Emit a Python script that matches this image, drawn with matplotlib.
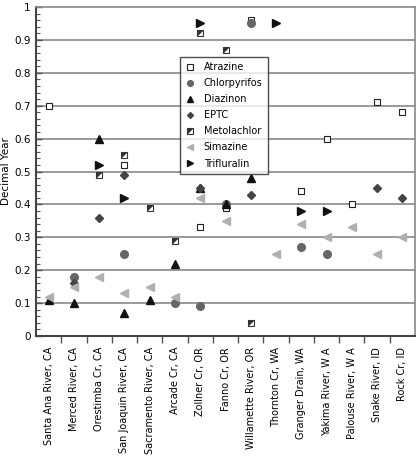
import numpy as np
import matplotlib
matplotlib.use("Agg")
import matplotlib.pyplot as plt
from matplotlib.path import Path
from matplotlib.legend_handler import HandlerTuple

nan = np.nan
categories = ["Santa Ana River, CA", "Merced River, CA", "Orestimba Cr, CA",
              "San Joaquin River, CA", "Sacramento River, CA", "Arcade Cr, CA",
              "Zollner Cr, OR", "Fanno Cr, OR", "Willamette River, OR",
              "Thornton Cr, WA", "Granger Drain, WA", "Yakima River, W A",
              "Palouse River, W A", "Snake River, ID", "Rock Cr, ID"]

atrazine     = [0.70, nan, nan, 0.52, nan, nan, 0.33, 0.39, 0.96, nan, 0.44, 0.60, 0.40, 0.71, 0.68]
chlorpyrifos = [nan, 0.18, nan, 0.25, nan, 0.10, 0.09, 0.40, 0.95, nan, 0.27, 0.25, nan, nan, nan]
diazinon     = [0.11, 0.10, 0.60, 0.07, 0.11, 0.22, 0.45, 0.40, 0.48, nan, nan, nan, nan, nan, nan]
eptc         = [nan, 0.16, 0.36, 0.49, nan, nan, 0.45, nan, 0.43, nan, nan, nan, nan, 0.45, 0.42]
metolachlor  = [nan, nan, 0.49, 0.55, 0.39, 0.29, 0.92, 0.87, 0.04, nan, nan, nan, nan, nan, nan]
simazine     = [0.12, 0.15, 0.18, 0.13, 0.15, 0.12, 0.42, 0.35, nan, 0.25, 0.34, 0.30, 0.33, 0.25, 0.30]
trifluralin  = [nan, nan, 0.52, 0.42, nan, nan, 0.95, nan, nan, 0.95, 0.38, 0.38, nan, nan, nan]

y_ticks = [0, 0.1, 0.2, 0.3, 0.4, 0.5, 0.6, 0.7, 0.8, 0.9, 1]
y_ticklabels = ["0", "0.1", "0.2", "0.3", "0.4", "0.5", "0.6", "0.7", "0.8", "0.9", "1"]

fig = plt.figure(figsize=(4.17, 4.57), dpi=100)
ax = fig.add_axes([36/417, 1 - 336/457, 379/417, 329/457])
x = np.arange(1, len(categories) + 1)

for yv in y_ticks[1:-1]:
    ax.axhline(yv, color="#9a9a9a", lw=1.4, zorder=1)

upper_left = Path([(-1, 1), (1, 1), (-1, -1), (-1, 1)],
                  [Path.MOVETO, Path.LINETO, Path.LINETO, Path.CLOSEPOLY])

ms = 5
kw = dict(linestyle="none", zorder=3)
h_atr, = ax.plot(x, atrazine, marker="s", ms=ms, mfc="white", mec="#222222", mew=0.8, **kw)
h_chl, = ax.plot(x, chlorpyrifos, marker="o", ms=5.5, mfc="#666666", mec="#666666", **kw)
h_dia, = ax.plot(x, diazinon, marker="^", ms=5.5, mfc="#111111", mec="#111111", **kw)
h_ept, = ax.plot(x, eptc, marker="D", ms=4, mfc="#444444", mec="#444444", **kw)
h_met1, = ax.plot(x, metolachlor, marker="s", ms=ms, mfc="white", mec="#333333", mew=0.8, **kw)
h_met2, = ax.plot(x, metolachlor, marker=upper_left, ms=ms, mfc="#333333", mec="none", **kw)
h_sim, = ax.plot(x, simazine, marker="<", ms=5.5, mfc="#b0b0b0", mec="#b0b0b0", **kw)
h_tri, = ax.plot(x, trifluralin, marker=">", ms=5.5, mfc="#111111", mec="#111111", **kw)

ax.set_xlim(0.5, len(categories) + 0.5)
ax.set_ylim(0, 1)
ax.set_yticks(y_ticks)
ax.set_yticklabels(y_ticklabels, fontsize=7.5)
ax.set_yticks(np.arange(0, 1.0001, 0.02), minor=True)
ax.tick_params(axis="y", which="major", direction="in", length=4, color="#555555", width=1, pad=4)
ax.tick_params(axis="y", which="minor", direction="in", length=3, color="#555555", width=0.8)

ax.set_xticks(x)
ax.set_xticklabels(categories, rotation=90, fontsize=7)
ax.set_xticks(np.arange(1.5, len(categories), 1), minor=True)
ax.tick_params(axis="x", which="major", length=0, pad=8)
ax.tick_params(axis="x", which="minor", direction="out", length=5, color="#555555", width=1)

for s in ["left", "bottom"]:
    ax.spines[s].set_color("#444444")
    ax.spines[s].set_linewidth(1.5)
for s in ["top", "right"]:
    ax.spines[s].set_color("#888888")
    ax.spines[s].set_linewidth(1.2)

ax.set_ylabel("Decimal Year", fontsize=7.5, labelpad=2)

leg = ax.legend([h_atr, h_chl, h_dia, h_ept, (h_met1, h_met2), h_sim, h_tri],
                ["Atrazine", "Chlorpyrifos", "Diazinon", "EPTC", "Metolachlor", "Simazine", "Trifluralin"],
                handler_map={tuple: HandlerTuple(ndivide=1)},
                loc="upper left", bbox_to_anchor=(0.38, 0.848), borderaxespad=0,
                fontsize=7, frameon=True, fancybox=False, labelspacing=0.62,
                handlelength=1.0, handletextpad=0.9, borderpad=0.55, numpoints=1,
                markerscale=0.75)
leg.get_frame().set_edgecolor("#222222")
leg.get_frame().set_linewidth(1.0)
leg.set_zorder(5)

fig.savefig("out.png", dpi=100)
